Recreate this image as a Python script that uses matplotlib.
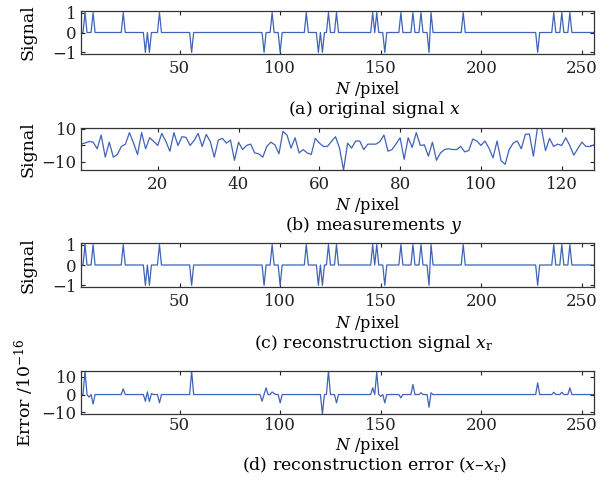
import numpy as np
import matplotlib
matplotlib.use('Agg')
import matplotlib.pyplot as plt

plt.rcParams['font.family'] = ['DejaVu Serif']
plt.rcParams['mathtext.fontset'] = 'dejavuserif'
plt.rcParams['font.size'] = 12

# sparse original signal (length 256), spikes of +1 / -1
N_SIG = 256
pos_idx = [3, 7, 22, 40, 96, 113, 124, 128, 146, 148, 160, 166, 170, 175, 191, 236, 240, 244]
neg_idx = [33, 35, 56, 92, 100, 119, 121, 152, 174, 228]

# measurements y (128 values)
meas = [0.8, 1.5, 2.4, 2.0, -2.0, 6.3, -7.1, 2.0, -7.1, -5.5,
        -0.6, 0.8, 7.8, 1.5, -5.5, 7.8, -2.0, 4.7, 2.4, 0.0,
        7.3, 2.5, -3.5, 7.8, 0.0, 5.3, 4.9, 0.0, 3.0, 7.3,
        -0.6, 6.7, 2.4, -7.1, 3.3, 4.3, 1.4, 3.3, -9.0, 2.0,
        -2.5, 0.0, 0.8, -4.5, -5.1, -7.1, -0.6, 2.0, 0.4, -5.1,
        8.6, 6.3, -1.6, 4.7, -4.5, -2.5, -4.5, -5.5, 4.3, 1.5,
        -0.6, -0.6, 2.5, 5.3, -1.6, -14.9, 1.4, -1.6, 2.7, 2.7,
        -2.5, 0.8, 0.8, 0.8, 2.4, 6.3, -3.5, -2.5, 1.0, 4.7,
        -8.4, 4.7, -1.2, 7.8, 0.0, 0.4, -6.5, 2.0, -9.0, -4.5,
        -2.5, -2.0, -2.5, -2.5, -0.6, -3.9, -3.1, 3.9, 2.7, 0.0,
        2.7, -1.6, -7.5, 2.7, -9.4, -11.4, -2.5, 1.4, 2.7, -2.0,
        6.7, 7.0, -6.5, 10.6, 10.2, -3.1, 4.3, -0.6, 0.8, 0.0,
        4.7, 0.0, -5.9, -2.0, 2.0, -0.6, -0.6, 0.4]

# reconstruction error (units of 1e-16), nonzero entries only
err_idx = [3, 5, 7, 22, 33, 34, 35, 36, 40, 56, 91, 93, 96, 97, 100,
           121, 124, 128, 146, 148, 150, 152, 160, 166, 170, 174, 175,
           228, 236, 240, 244]
err_val = [13.3, -1.5, -5.3, 3.2, -3.8, 1.5, -4.0, 0.5, -4.7, 13.3, -3.8, 3.8, 1.5, 0.5, -4.7,
           -11.0, 13.3, -4.7, 3.8, 12.6, -1.0, -4.7, -1.9, 5.7, 1.0, -7.2, 1.0,
           6.6, 1.3, 1.3, 3.8]

sig = np.zeros(N_SIG)
sig[np.array(pos_idx) - 1] = 1
sig[np.array(neg_idx) - 1] = -1
rec = sig.copy()
err = np.zeros(N_SIG)
err[np.array(err_idx) - 1] = err_val
n = np.arange(1, N_SIG + 1)
m = np.arange(1, len(meas) + 1)

LINE = '#3f63b8'
W, H = 614, 480
fig = plt.figure(figsize=(6.14, 4.8), dpi=100)

def make_ax(top, bottom, xpad=4):
    ax = fig.add_axes([81 / W, 1 - bottom / H, 513 / W, (bottom - top) / H])
    ax.tick_params(direction='in', top=True, right=True, length=3, width=0.8,
                   labelsize=12, colors='#222222')
    ax.tick_params(axis='x', pad=xpad)
    ax.tick_params(axis='y', pad=3)
    for s in ax.spines.values():
        s.set_linewidth(0.9)
        s.set_color('#333333')
    return ax

def labels(ax, yx, caption, ylab, gap=20):
    ax.set_ylabel(ylab, fontsize=12.5)
    ax.yaxis.set_label_coords((36 - 81) / 513, 0.5)
    fig.text(368 / W, 1 - yx / H, r'$N$ /pixel', ha='center', va='center', fontsize=11.5)
    fig.text(374 / W, 1 - (yx + gap) / H, caption, ha='center', va='center', fontsize=12.5)

# (a)
ax = make_ax(11, 54)
ax.plot(n, sig, color=LINE, lw=0.9)
ax.set_xlim(1, N_SIG)
ax.set_ylim(-1.08, 1.08)
ax.set_xticks([50, 100, 150, 200, 250])
ax.set_yticks([-1, 0, 1])
labels(ax, 89, r'(a) original signal $x$', 'Signal')

# (b)
ax = make_ax(128, 170)
ax.plot(m, meas, color=LINE, lw=0.9)
ax.set_xlim(1, len(meas))
ax.set_ylim(min(meas), max(meas))
ax.set_xticks([20, 40, 60, 80, 100, 120])
ax.set_yticks([-10, 0, 10])
ax.set_yticklabels(['\u221210', '', '10'])
labels(ax, 206, r'(b) measurements $y$', 'Signal')

# (c)
ax = make_ax(243, 287)
ax.plot(n, rec, color=LINE, lw=0.9)
ax.set_xlim(1, N_SIG)
ax.set_ylim(-1.08, 1.08)
ax.set_xticks([50, 100, 150, 200, 250])
ax.set_yticks([-1, 0, 1])
labels(ax, 323, r'(c) reconstruction signal $x_{\mathrm{r}}$', 'Signal')

# (d)
ax = make_ax(371, 414, xpad=2.5)
ax.plot(n, err, color=LINE, lw=0.9)
ax.set_xlim(1, N_SIG)
ax.set_ylim(min(err_val), max(err_val))
ax.set_xticks([50, 100, 150, 200, 250])
ax.set_yticks([-10, 0, 10])
labels(ax, 446, '(d) reconstruction error ($x$\u2013$x_{\\mathrm{r}}$)',
       r'Error /10$^{-16}$', gap=19)

fig.savefig('out.png', dpi=100)
